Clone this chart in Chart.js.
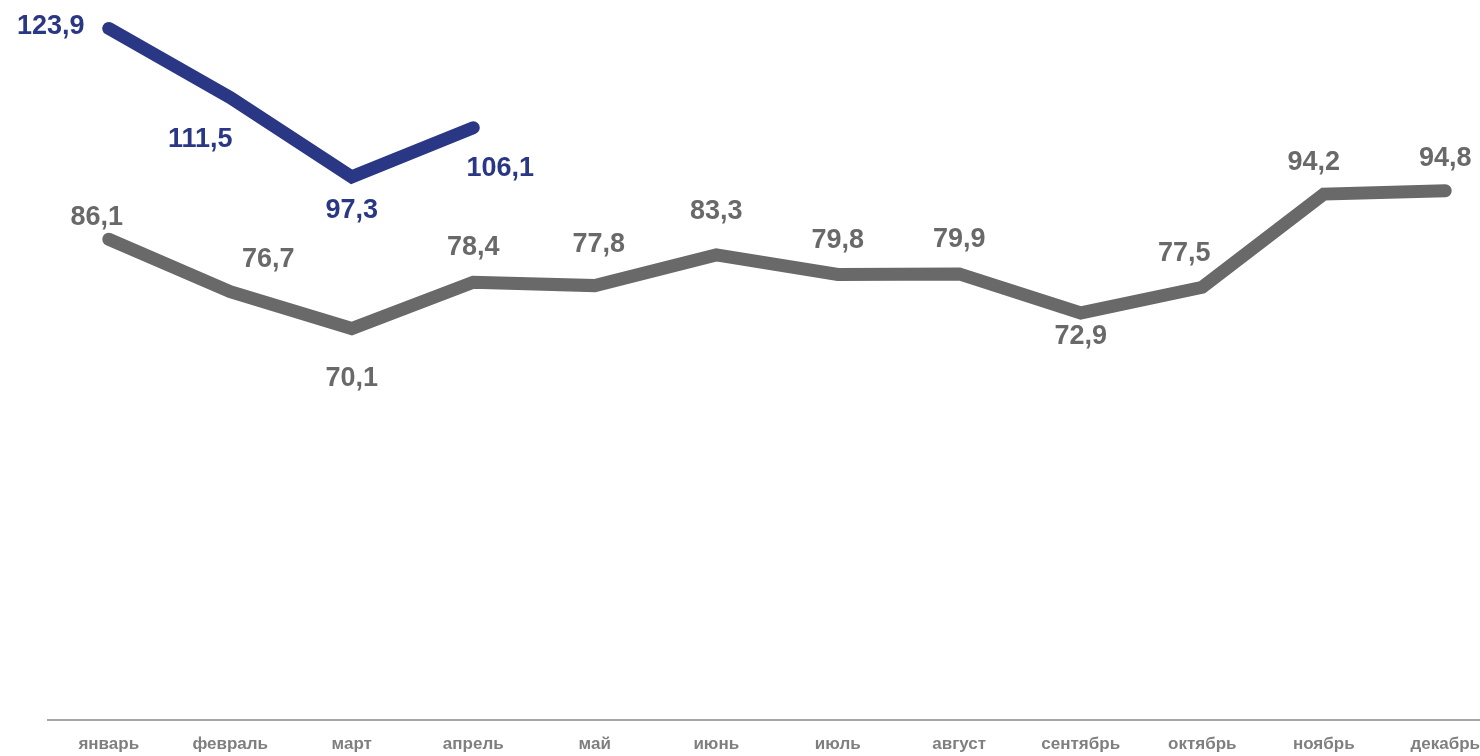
<!DOCTYPE html>
<html>
<head>
<meta charset="utf-8">
<script src="https://cdn.jsdelivr.net/npm/chart.js@4/dist/chart.umd.min.js"></script>
<style>
  html, body { margin: 0; padding: 0; background: #fff; overflow: hidden; }
  #wrap { width: 1510px; height: 770px; position: relative; }
</style>
</head>
<body>
<div id="wrap"><canvas id="chart"></canvas></div>
<script>
const months = ['январь', 'февраль', 'март', 'апрель', 'май', 'июнь', 'июль', 'август', 'сентябрь', 'октябрь', 'ноябрь', 'декабрь'];
const prevYear = [86.1, 76.7, 70.1, 78.4, 77.8, 83.3, 79.8, 79.9, 72.9, 77.5, 94.2, 94.8];
const currYear = [123.9, 111.5, 97.3, 106.1, null, null, null, null, null, null, null, null];

// where each value label sits relative to its point
const prevLabelPos = [[-12, -22], [38, -32], [0, 50], [0, -35], [4, -41], [0, -43], [0, -34], [0, -34], [0, 24], [-18, -34], [-10, -32], [0, -32]];
const currLabelPos = [[-58, -2], [-30, 42], [0, 34], [27, 41]];

const valueLabels = {
  id: 'valueLabels',
  afterDatasetsDraw(chart) {
    const ctx = chart.ctx;
    ctx.save();
    ctx.font = 'bold 27px "Liberation Sans", Arial, sans-serif';
    ctx.textAlign = 'center';
    ctx.textBaseline = 'middle';
    chart.data.datasets.forEach((ds, i) => {
      const meta = chart.getDatasetMeta(i);
      const pos = i === 0 ? prevLabelPos : currLabelPos;
      ctx.fillStyle = ds.borderColor;
      meta.data.forEach((pt, j) => {
        const v = ds.data[j];
        if (v == null) return;
        const off = pos[j] || [0, -30];
        ctx.fillText(v.toFixed(1).replace('.', ','), pt.x + off[0], pt.y + off[1]);
      });
    });
    ctx.restore();
  }
};

new Chart(document.getElementById('chart'), {
  type: 'line',
  data: {
    labels: months,
    datasets: [
      {
        label: 'prev',
        data: prevYear,
        borderColor: '#696969',
        borderWidth: 13,
        borderCapStyle: 'round',
        pointRadius: 0,
        tension: 0
      },
      {
        label: 'curr',
        data: currYear,
        borderColor: '#2a3784',
        borderWidth: 13,
        borderCapStyle: 'round',
        pointRadius: 0,
        tension: 0
      }
    ]
  },
  options: {
    responsive: true,
    maintainAspectRatio: false,
    animation: false,
    layout: { padding: { left: 48, right: 4, top: 0, bottom: 0 } },
    plugins: {
      legend: { display: false },
      tooltip: { enabled: false }
    },
    scales: {
      x: {
        offset: true,
        grid: { display: false, drawTicks: false },
        border: { display: true, color: '#a6a6a6', width: 2 },
        ticks: {
          color: '#7f7f7f',
          padding: 15,
          maxRotation: 0,
          autoSkip: false,
          font: { family: '"Liberation Sans", Arial, sans-serif', size: 17, weight: 'bold' }
        }
      },
      y: {
        display: false,
        min: 0,
        max: 129
      }
    }
  },
  plugins: [valueLabels]
});
</script>
</body>
</html>
